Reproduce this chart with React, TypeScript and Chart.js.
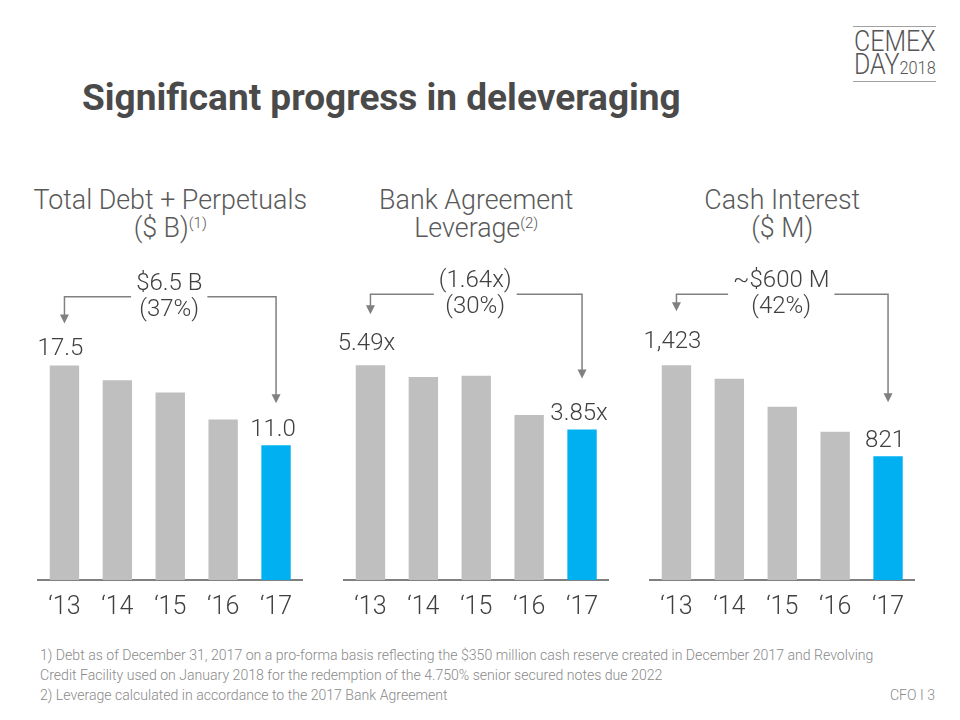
import React, { useEffect, useRef } from "react";
import { Chart, registerables } from "chart.js";

Chart.register(...registerables);

// ---------- data ----------
const years = ["\u201813", "\u201814", "\u201815", "\u201816", "\u201817"];
const debtValues = [17.5, 16.3, 15.3, 13.1, 11.0];
const leverageValues = [5.49, 5.19, 5.22, 4.22, 3.85];
const interestValues = [1423, 1334, 1149, 983, 821];

const debtLabels = ["17.5", "11.0"];
const leverageLabels = ["5.49x", "3.85x"];
const interestLabels = ["1,423", "821"];

const debtChange = ["$6.5 B", "(37%)"];
const leverageChange = ["(1.64x)", "(30%)"];
const interestChange = ["~$600 M", "(42%)"];

const debtTitle = ["Total Debt + Perpetuals", "($ B)", "(1)"];
const leverageTitle = ["Bank Agreement", "Leverage", "(2)"];
const interestTitle = ["Cash Interest", "($ M)", ""];

// ---------- styles ----------
const GRAY_BAR = "#bfbfbf";
const BLUE_BAR = "#00b0f0";
const TEXT = "#404040";
const LINE = "#808080";
const FONT = "Roboto, 'Noto Sans', sans-serif";

const CANVAS_TOP = 250;
const CANVAS_W = 300;
const CANVAS_H = 386;

type Panel = {
  left: number;
  values: number[];
  labels: string[];
  change: string[];
  title: string[];
  yMax: number;
  firstGap: number;
  arrowGap: number;
  lineY: number;
};

const panels: Panel[] = [
  { left: 20, values: debtValues, labels: debtLabels, change: debtChange, title: debtTitle, yMax: 26.1, firstGap: 10, arrowGap: 42, lineY: 46.7 },
  { left: 326, values: leverageValues, labels: leverageLabels, change: leverageChange, title: leverageTitle, yMax: 8.18, firstGap: 15, arrowGap: 51, lineY: 44.3 },
  { left: 632, values: interestValues, labels: interestLabels, change: interestChange, title: interestTitle, yMax: 2121, firstGap: 17, arrowGap: 54, lineY: 44.3 },
];

const annotatePlugin = {
  id: "annotate",
  afterDatasetsDraw(chart: any, _args: any, opts: any) {
    const { ctx, chartArea } = chart;
    const bars = chart.getDatasetMeta(0).data;
    const first = bars[0];
    const last = bars[bars.length - 1];
    ctx.save();
    ctx.fillStyle = TEXT;
    ctx.font = `300 24px ${FONT}`;
    ctx.textAlign = "center";
    ctx.textBaseline = "alphabetic";
    ctx.fillText(opts.labels[0], first.x - 4, first.y - opts.firstGap);
    ctx.fillText(opts.labels[1], last.x - 3, last.y - 9.5);

    const cx = (chartArea.left + chartArea.right) / 2 - 1;
    const ly = opts.lineY;
    ctx.textBaseline = "middle";
    ctx.fillText(opts.change[0], cx, ly - 13);
    ctx.fillText(opts.change[1], cx, ly + 13);
    const half =
      Math.max(ctx.measureText(opts.change[0]).width, ctx.measureText(opts.change[1]).width) / 2 + 5;

    const leftTip = first.y - opts.arrowGap;
    const rightTip = last.y - opts.arrowGap;
    const ah = 9;
    ctx.strokeStyle = LINE;
    ctx.lineWidth = 1.5;
    ctx.beginPath();
    ctx.moveTo(cx - half, ly);
    ctx.lineTo(first.x, ly);
    ctx.lineTo(first.x, leftTip - ah + 1);
    ctx.moveTo(cx + half, ly);
    ctx.lineTo(last.x, ly);
    ctx.lineTo(last.x, rightTip - ah + 1);
    ctx.stroke();
    ctx.fillStyle = LINE;
    for (const [x, y] of [
      [first.x, leftTip],
      [last.x, rightTip],
    ]) {
      ctx.beginPath();
      ctx.moveTo(x - 4.5, y - ah);
      ctx.lineTo(x + 4.5, y - ah);
      ctx.lineTo(x, y);
      ctx.closePath();
      ctx.fill();
    }
    ctx.restore();
  },
};

function BarPanel({ panel }: { panel: Panel }) {
  const ref = useRef<HTMLCanvasElement | null>(null);
  useEffect(() => {
    if (!ref.current) return;
    const colors = panel.values.map((_, i) => (i === panel.values.length - 1 ? BLUE_BAR : GRAY_BAR));
    const chart = new Chart(ref.current, {
      type: "bar",
      data: {
        labels: years,
        datasets: [
          {
            data: panel.values,
            backgroundColor: colors,
            borderWidth: 0,
            categoryPercentage: 1,
            barPercentage: 0.555,
          },
        ],
      },
      options: {
        animation: false,
        responsive: false,
        maintainAspectRatio: false,
        events: [],
        layout: { padding: { left: 18, right: 17.5, top: 10, bottom: 0 } },
        plugins: {
          legend: { display: false },
          tooltip: { enabled: false },
          title: { display: false },
          annotate: {
            labels: panel.labels,
            change: panel.change,
            firstGap: panel.firstGap,
            arrowGap: panel.arrowGap,
            lineY: panel.lineY,
          },
        } as any,
        scales: {
          x: {
            grid: { display: false, drawTicks: false },
            border: { display: true, color: LINE, width: 2 },
            ticks: {
              color: TEXT,
              padding: 13,
              font: { family: FONT, size: 25, weight: "300" as any },
            },
          },
          y: {
            display: false,
            min: 0,
            max: panel.yMax,
          },
        },
      },
      plugins: [annotatePlugin],
    });
    return () => chart.destroy();
  }, [panel]);

  const mid = panel.left + 18 + (CANVAS_W - 18 - 17.5) / 2;
  return (
    <>
      <div
        style={{
          position: "absolute",
          left: mid - 170,
          width: 340,
          top: 186,
          textAlign: "center",
          fontFamily: FONT,
          fontWeight: 300,
          fontSize: 26.8,
          lineHeight: "28px",
          color: "#595959",
          whiteSpace: "nowrap",
        }}
      >
        <div>{panel.title[0]}</div>
        <div>
          {panel.title[1]}
          {panel.title[2] ? (
            <span style={{ fontSize: 15, position: "relative", top: -9 }}>{panel.title[2]}</span>
          ) : null}
        </div>
      </div>
      <canvas
        ref={ref}
        width={CANVAS_W}
        height={CANVAS_H}
        style={{
          position: "absolute",
          left: panel.left,
          top: CANVAS_TOP,
          width: CANVAS_W,
          height: CANVAS_H,
        }}
      />
    </>
  );
}

export default function App() {
  return (
    <div
      style={{
        position: "absolute",
        left: 0,
        top: 0,
        width: 960,
        height: 720,
        background: "#ffffff",
        overflow: "hidden",
        fontFamily: FONT,
      }}
    >
      {/* logo */}
      <div
        style={{
          position: "absolute",
          left: 853,
          top: 26,
          width: 83,
          height: 54,
          borderTop: "1px solid #a0a0a0",
          borderBottom: "1px solid #a0a0a0",
          color: "#555555",
        }}
      >
        <div
          style={{
            position: "absolute",
            left: 1,
            top: 0,
            fontSize: 29,
            fontWeight: 300,
            lineHeight: "29px",
            transform: "scaleX(0.86)",
            transformOrigin: "left",
            whiteSpace: "nowrap",
          }}
        >
          CEMEX
        </div>
        <div
          style={{
            position: "absolute",
            left: 1,
            top: 23,
            fontSize: 29,
            fontWeight: 300,
            lineHeight: "29px",
            transform: "scaleX(0.86)",
            transformOrigin: "left",
            whiteSpace: "nowrap",
          }}
        >
          DAY<span style={{ fontSize: 19 }}>2018</span>
        </div>
      </div>

      {/* title */}
      <div
        style={{
          position: "absolute",
          left: 82,
          top: 75,
          fontSize: 37,
          fontWeight: 700,
          lineHeight: "46px",
          color: "#4a4a4a",
          whiteSpace: "nowrap",
        }}
      >
        Significant progress in deleveraging
      </div>

      {panels.map((p, i) => (
        <BarPanel key={i} panel={p} />
      ))}

      {/* footnotes */}
      <div
        style={{
          position: "absolute",
          left: 40,
          top: 645,
          fontSize: 14.1,
          fontWeight: 300,
          lineHeight: "20px",
          color: "#8a8a8a",
          whiteSpace: "nowrap",
        }}
      >
        <div>
          1) Debt as of December 31, 2017 on a pro-forma basis reflecting the $350 million cash reserve created in
          December 2017 and Revolving
        </div>
        <div>Credit Facility used on January 2018 for the redemption of the 4.750% senior secured notes due 2022</div>
        <div>2) Leverage calculated in accordance to the 2017 Bank Agreement</div>
      </div>
      <div
        style={{
          position: "absolute",
          right: 25,
          top: 685,
          fontSize: 14.1,
          fontWeight: 300,
          lineHeight: "20px",
          color: "#8a8a8a",
          whiteSpace: "nowrap",
        }}
      >
        CFO I 3
      </div>
    </div>
  );
}
